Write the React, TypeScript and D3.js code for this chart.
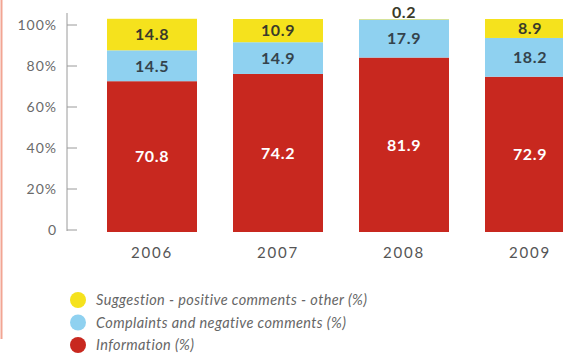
import React from "react";
import * as d3 from "d3";

const years = ["2006", "2007", "2008", "2009"];
const information = [70.8, 74.2, 81.9, 72.9];
const complaints = [14.5, 14.9, 17.9, 18.2];
const suggestions = [14.8, 10.9, 0.2, 8.9];
const axisTicks = [0, 20, 40, 60, 80, 100];

const seriesNames = [
  "Suggestion - positive comments - other (%)",
  "Complaints and negative comments (%)",
  "Information (%)",
];

const RED = "#c8281f";
const BLUE = "#8fd1f0";
const YELLOW = "#f5e21d";

const W = 563;
const H = 355;

export default function App() {
  const x = d3
    .scaleBand<string>()
    .domain(years)
    .range([107, 575])
    .paddingInner(0.2857)
    .paddingOuter(0);

  const yBar = d3.scaleLinear().domain([0, 100]).range([232, 19]);
  const yAxis = d3.scaleLinear().domain([0, 100]).range([230, 25]);

  const rows = years.map((year, i) => ({
    year,
    information: information[i],
    complaints: complaints[i],
    suggestions: suggestions[i],
  }));

  const keys = ["information", "complaints", "suggestions"] as const;
  const colors = [RED, BLUE, YELLOW];
  const labelColors = ["#ffffff", "#34434c", "#3a3a2a"];
  const stacked = d3.stack<any>().keys(keys as any)(rows);

  const legendColors = [YELLOW, BLUE, RED];

  return (
    <svg
      width={W}
      height={H}
      style={{ position: "absolute", left: 0, top: 0, background: "#fff" }}
      fontFamily="Lato, 'Open Sans', sans-serif"
    >
      {/* left border rule */}
      <line x1={1.5} x2={1.5} y1={0} y2={339} stroke="#f2a593" strokeWidth={2} />

      {/* y axis */}
      <line x1={67} x2={67} y1={13} y2={231} stroke="#9a9a9a" strokeWidth={1} />
      {axisTicks.map((t) => (
        <g key={t}>
          <line x1={67} x2={77} y1={yAxis(t)} y2={yAxis(t)} stroke="#9a9a9a" strokeWidth={1} />
          <text
            x={57}
            y={yAxis(t)}
            dy="0.35em"
            textAnchor="end"
            fontSize={14}
            letterSpacing={1}
            fill="#6a6a6a"
          >
            {t === 0 ? "0" : `${t}%`}
          </text>
        </g>
      ))}

      {/* stacked bars */}
      {stacked.map((layer, li) => (
        <g key={layer.key}>
          {layer.map((d, i) => {
            const y0 = yBar(d[0]);
            const y1 = yBar(d[1]);
            const bx = x(years[i])!;
            const bw = x.bandwidth();
            return (
              <rect key={i} x={bx} y={y1} width={bw} height={Math.max(0, y0 - y1)} fill={colors[li]} />
            );
          })}
        </g>
      ))}

      {/* value labels */}
      {stacked.map((layer, li) => (
        <g key={`lbl-${layer.key}`}>
          {layer.map((d, i) => {
            const v = d[1] - d[0];
            const y0 = yBar(d[0]);
            const y1 = yBar(d[1]);
            const cx = x(years[i])! + x.bandwidth() / 2;
            const small = v < 3;
            const cy = small ? y1 - 7 : (y0 + y1) / 2;
            return (
              <text
                key={i}
                x={cx}
                y={cy}
                dy="0.36em"
                textAnchor="middle"
                fontSize={16}
                fontWeight={700}
                letterSpacing={0.6}
                fill={labelColors[li]}
              >
                {v.toFixed(1)}
              </text>
            );
          })}
        </g>
      ))}

      {/* year labels */}
      {years.map((yr) => (
        <text
          key={yr}
          x={x(yr)! + x.bandwidth() / 2}
          y={253}
          dy="0.35em"
          textAnchor="middle"
          fontSize={15}
          letterSpacing={1.8}
          fill="#555"
        >
          {yr}
        </text>
      ))}

      {/* legend */}
      {seriesNames.map((name, i) => (
        <g key={name} transform={`translate(0, ${300 + i * 22.5})`}>
          <circle cx={78} cy={0} r={8} fill={legendColors[i]} />
          <text
            x={96}
            y={0}
            dy="0.35em"
            fontSize={14.5}
            fontStyle="italic"
            letterSpacing={0.4}
            fill="#666"
          >
            {name}
          </text>
        </g>
      ))}
    </svg>
  );
}
